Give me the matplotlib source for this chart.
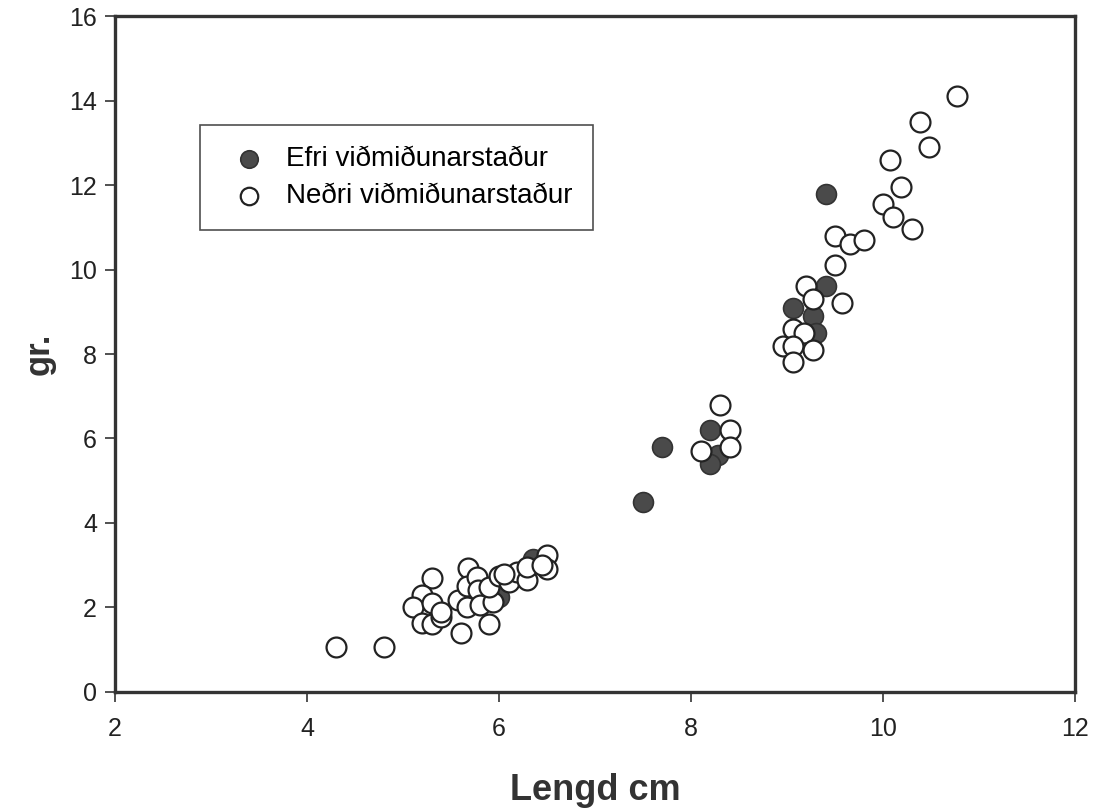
import matplotlib
matplotlib.use("Agg")
import matplotlib.pyplot as plt

plt.rcParams['font.family'] = ['Liberation Sans', 'DejaVu Sans']

# Efri viðmiðunarstaður (filled)
efri_x = [7.5, 7.7, 8.2, 8.28, 8.2, 9.4, 9.4, 9.06, 9.27, 9.3, 6.0, 6.35, 5.8]
efri_y = [4.5, 5.8, 6.2, 5.6, 5.4, 11.8, 9.6, 9.1, 8.9, 8.5, 2.25, 3.15, 2.15]

# Neðri viðmiðunarstaður (hollow)
nedri_x = [4.3, 4.8, 5.3, 5.2, 5.1, 5.2, 5.3, 5.3, 5.4, 5.4, 5.6, 5.57,
           5.68, 5.67, 5.67, 5.77, 5.78, 5.8, 5.9, 5.94, 5.9, 6.0, 6.1,
           6.19, 6.29, 6.29, 6.5, 6.5, 6.45, 6.05,
           8.3, 8.4, 8.1, 8.4,
           10.77, 10.38, 10.48, 10.07, 10.18, 10.0, 10.1, 10.3, 9.5, 9.65,
           9.8, 9.5, 9.2, 9.27, 9.57, 9.06, 9.17, 8.96, 9.06, 9.27, 9.06]
nedri_y = [1.05, 1.05, 2.7, 2.3, 2.0, 1.63, 1.6, 2.1, 1.78, 1.9, 1.4, 2.18,
           2.93, 2.5, 2.0, 2.72, 2.4, 2.06, 1.6, 2.13, 2.49, 2.75, 2.6,
           2.84, 2.65, 2.96, 3.24, 2.9, 3.0, 2.8,
           6.8, 6.2, 5.7, 5.8,
           14.1, 13.5, 12.9, 12.6, 11.95, 11.55, 11.25, 10.95, 10.8, 10.6,
           10.7, 10.1, 9.6, 9.3, 9.2, 8.6, 8.5, 8.2, 8.2, 8.1, 7.8]

fig = plt.figure(figsize=(10.95, 8.11), dpi=100)
ax = fig.add_axes([0.105, 0.147, 0.877, 0.833])

ax.scatter(efri_x, efri_y, s=205, facecolor='#4a4a4a', edgecolor='#333333',
           linewidth=1.2, zorder=3, label='Efri viðmiðunarstaður')
ax.scatter(nedri_x, nedri_y, s=205, facecolor='white', edgecolor='#222222',
           linewidth=1.6, zorder=4, label='Neðri viðmiðunarstaður')

ax.set_xlim(2, 12)
ax.set_ylim(0, 16)
ax.set_xticks(range(2, 13, 2))
ax.set_yticks(range(0, 17, 2))

for sp in ax.spines.values():
    sp.set_linewidth(2.4)
    sp.set_color('#333333')

ax.tick_params(direction='out', length=7, width=1.2, colors='#333333',
               labelsize=18, labelcolor='#222222', pad=6)
ax.tick_params(axis='x', pad=11)

ax.set_xlabel('Lengd cm', fontsize=26, fontweight='bold', color='#333333')
ax.set_ylabel('gr.', fontsize=25, fontweight='bold', color='#333333')
ax.xaxis.set_label_coords(0.5, -0.12)
ax.yaxis.set_label_coords(-0.062, 0.5)

leg = ax.legend(loc='upper left', bbox_to_anchor=(0.0885, 0.839), fontsize=20,
                frameon=True, fancybox=False, edgecolor='#222222',
                markerscale=0.88, handletextpad=0.35, borderpad=0.75,
                labelspacing=0.42, borderaxespad=0)
leg.get_frame().set_linewidth(1.2)

fig.savefig('out.png', dpi=100)
